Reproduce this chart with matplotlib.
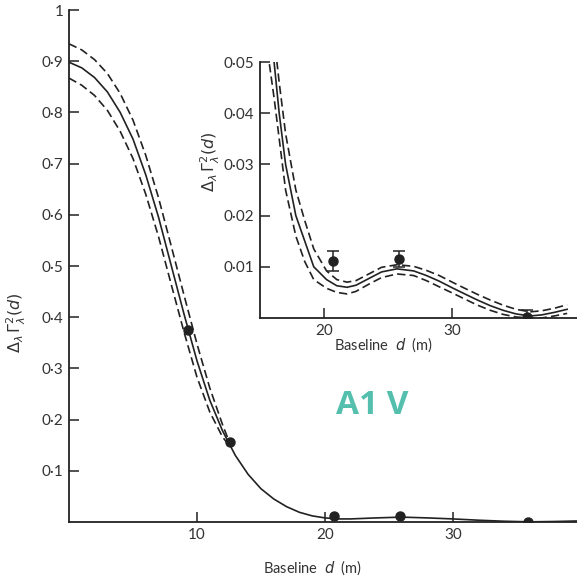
import matplotlib
matplotlib.use("Agg")
import matplotlib.pyplot as plt

plt.rcParams['font.family'] = ['Lato', 'DejaVu Sans']
plt.rcParams['mathtext.fontset'] = 'dejavusans'

INK = '#222222'

# main curve (solid)
main_d = [0, 1, 2, 3, 4, 5, 6, 7, 8, 9, 10, 11, 12, 13, 14, 15, 16, 17, 18, 19,
          20, 21, 22, 24, 26, 28, 30, 32, 34, 36, 38, 39.7]
main_g = [0.898, 0.887, 0.868, 0.840, 0.800, 0.748, 0.678, 0.595, 0.50, 0.405,
          0.315, 0.238, 0.178, 0.130, 0.093, 0.065, 0.045, 0.030, 0.019, 0.012,
          0.008, 0.006, 0.006, 0.008, 0.0095, 0.008, 0.006, 0.0035, 0.0015,
          0.0003, 0.001, 0.002]

# dashed error curves in the main plot
dash_d = [0, 1, 2, 3, 4, 5, 6, 7, 8, 9, 10, 11, 12, 12.5]
upper_g = [0.934, 0.922, 0.903, 0.876, 0.837, 0.785, 0.716, 0.633, 0.538, 0.442,
           0.348, 0.262, 0.190, 0.158]
lower_g = [0.867, 0.853, 0.833, 0.804, 0.763, 0.710, 0.640, 0.557, 0.463, 0.370,
           0.283, 0.215, 0.166, 0.150]

# inset curves
ins_d = [15.6, 16.1, 16.5, 17.0, 17.8, 18.5, 19.2, 20.2, 21.0, 21.8, 22.5, 23.5,
         24.5, 25.7, 27.0, 28.0, 29.0, 30.1, 31.0, 32.0, 33.0, 34.0, 35.0, 36.1,
         37.0, 38.0, 39.0]
ins_mid = [0.060, 0.050, 0.040, 0.030, 0.020, 0.015, 0.010, 0.0075, 0.0063, 0.006,
           0.0064, 0.0077, 0.0090, 0.0096, 0.0092, 0.0083, 0.0072, 0.0058, 0.0047,
           0.0035, 0.0024, 0.0015, 0.0008, 0.0004, 0.0006, 0.0011, 0.0017]
ins_up = [0.064, 0.055, 0.046, 0.036, 0.025, 0.019, 0.0135, 0.0092, 0.0075, 0.007,
          0.0073, 0.0086, 0.0099, 0.0104, 0.0101, 0.0093, 0.0083, 0.0069, 0.0058,
          0.0046, 0.0035, 0.0025, 0.0017, 0.0012, 0.0014, 0.0019, 0.0026]
ins_lo = [0.052, 0.043, 0.035, 0.025, 0.016, 0.011, 0.0075, 0.0058, 0.0050, 0.0047,
          0.0052, 0.0066, 0.0079, 0.0086, 0.0083, 0.0073, 0.0061, 0.0048, 0.0037,
          0.0025, 0.0015, 0.0007, 0.0002, 0.0, 0.0, 0.0004, 0.0009]

# measured points
obs_d = [9.3, 12.6, 20.7, 25.9, 35.9]
obs_g = [0.375, 0.156, 0.011, 0.0115, 0.0003]
ins_obs_d = [20.7, 25.9, 35.9]
ins_obs_g = [0.0111, 0.0115, 0.0002]
ins_err = [0.0019, 0.0015, 0.0014]

main_yticks = [0.1, 0.2, 0.3, 0.4, 0.5, 0.6, 0.7, 0.8, 0.9, 1.0]
main_ylabels = ['0·1', '0·2', '0·3', '0·4', '0·5', '0·6', '0·7', '0·8', '0·9', '1']
ins_yticks = [0.01, 0.02, 0.03, 0.04, 0.05]
ins_ylabels = ['0·01', '0·02', '0·03', '0·04', '0·05']
main_xticks = [10, 20, 30]
ins_xticks = [20, 30]

ylab = r'$\Delta_\lambda\,\Gamma^2_\lambda(d)$'
xlab = r'Baseline  $d$  (m)'

fig = plt.figure(figsize=(5.77, 5.78), dpi=100)

def style(ax):
    for s in ['top', 'right']:
        ax.spines[s].set_visible(False)
    for s in ['left', 'bottom']:
        ax.spines[s].set_color(INK)
        ax.spines[s].set_linewidth(1.3)
    ax.tick_params(direction='in', length=7, width=1.1, color=INK,
                   labelsize=11, labelcolor='#333333', pad=4)

### main plot
ax = fig.add_axes([69/577, 56/578, 508/577, 512/578])
style(ax)
ax.plot(main_d, main_g, color=INK, lw=1.2)
ax.plot(dash_d, upper_g, color=INK, lw=1.2, dashes=(5, 2.5))
ax.plot(dash_d, lower_g, color=INK, lw=1.2, dashes=(5, 2.5))
ax.plot(obs_d, obs_g, 'o', color=INK, ms=6.5)
ax.set_xlim(0, 39.7)
ax.set_ylim(0, 1.0)
ax.set_yticks(main_yticks)
ax.set_yticklabels(main_ylabels)
ax.set_xticks(main_xticks)
ax.set_ylabel(ylab, fontsize=11.5, color='#333333')
ax.yaxis.set_label_coords(-0.08, 0.39)
ax.set_xlabel(xlab, fontsize=10.5, color='#333333')
ax.xaxis.set_label_coords(0.48, -0.072)

ax.text(0.525, 0.21, 'A1 V', transform=ax.transAxes, fontsize=24,
        fontweight='bold', color='#55bfae', family=['Open Sans', 'DejaVu Sans'])

### inset
ins = fig.add_axes([260/577, 260/578, 317/577, 256/578])
style(ins)
ins.patch.set_alpha(0)
ins.plot(ins_d, ins_mid, color=INK, lw=1.2)
ins.plot(ins_d, ins_up, color=INK, lw=1.2, dashes=(5, 2.5))
ins.plot(ins_d, ins_lo, color=INK, lw=1.2, dashes=(5, 2.5))
ins.errorbar(ins_obs_d, ins_obs_g, yerr=ins_err, fmt='o', color=INK, ms=6.5,
             capsize=4, elinewidth=1.1, capthick=1.1)
ins.set_xlim(15, 39.77)
ins.set_ylim(0, 0.05)
ins.set_yticks(ins_yticks)
ins.set_yticklabels(ins_ylabels)
ins.set_xticks(ins_xticks)
ins.set_ylabel(ylab, fontsize=11.5, color='#333333')
ins.yaxis.set_label_coords(-0.12, 0.61)
ins.set_xlabel(xlab, fontsize=10.5, color='#333333')
ins.xaxis.set_label_coords(0.39, -0.07)

fig.savefig('out.png', dpi=100)
